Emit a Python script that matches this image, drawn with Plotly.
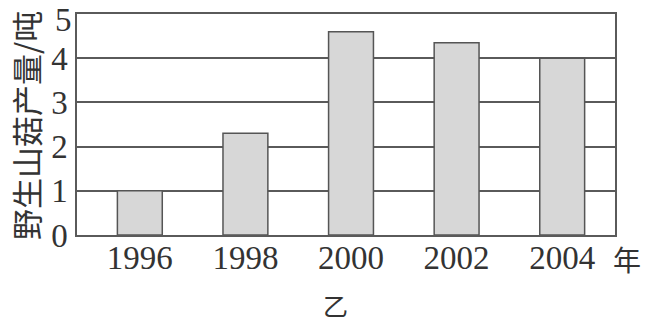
import plotly.graph_objects as go

years = [1996, 1998, 2000, 2002, 2004]
year_labels = ["1996", "1998", "2000", "2002", "2004"]
values = [1.0, 2.3, 4.6, 4.35, 4.0]
y_ticks = [0, 1, 2, 3, 4, 5]
y_labels = ["0", "1", "2", "3", "4", "5"]
y_title = "野生山菇产量/吨"
x_unit = "年"
caption = "乙"

line_c = "#5a5a5a"
text_c = "#333333"

W, H = 646, 324
l, r, t, b = 77, 31, 14, 89
pw, ph = W - l - r, H - t - b


def px_to_paper(px, py):
    return (px - l) / pw, (H - b - py) / ph


fig = go.Figure()
fig.add_trace(go.Bar(
    x=years, y=values, width=0.85,
    marker=dict(color="#d7d7d7", line=dict(color="#555555", width=1.5)),
))

ann_specs = [
    (y_title, 25, 126, -90, 31),
    (x_unit, 627, 259, 0, 28),
    (caption, 335, 305, 0, 25),
]
annotations = []
for text, px, py, ang, size in ann_specs:
    xp, yp = px_to_paper(px, py)
    annotations.append(dict(
        text=text, textangle=ang, x=xp, y=yp, xref="paper", yref="paper",
        xanchor="center", yanchor="middle", showarrow=False,
        font=dict(family="Noto Sans CJK SC", size=size, color=text_c),
    ))

# top tick label sits slightly lower in the reference so it stays on the page
annotations.append(dict(
    text=y_labels[-1], x=0, xref="paper", y=y_ticks[-1], yref="y",
    xanchor="right", yanchor="middle", xshift=-3, yshift=-6, showarrow=False,
    font=dict(family="Liberation Serif", size=33, color=text_c),
))
tick_text = y_labels[:-1] + [""]

fig.update_layout(
    width=W, height=H,
    margin=dict(l=l, r=r, t=t, b=b, autoexpand=False),
    paper_bgcolor="white", plot_bgcolor="white",
    showlegend=False,
    font=dict(family="Liberation Serif", size=33, color=text_c),
    xaxis=dict(
        range=[1994.81, 2005.0], tickvals=years, ticktext=year_labels,
        showgrid=False, zeroline=False, showline=True, linecolor=line_c,
        linewidth=1.5, mirror=True, ticks="", ticklabelstandoff=-7,
        automargin=False,
        tickfont=dict(family="Liberation Serif", size=33, color=text_c),
    ),
    yaxis=dict(
        range=[0, 5], tickvals=y_ticks, ticktext=tick_text, showgrid=True,
        gridcolor=line_c, gridwidth=1.5, zeroline=False, showline=True,
        linecolor=line_c, linewidth=1.5, mirror=True, ticks="",
        ticklabelstandoff=1, ticklabeloverflow="allow", automargin=False,
        tickfont=dict(family="Liberation Serif", size=33, color=text_c),
    ),
    annotations=annotations,
)

fig.write_html("out.html")
